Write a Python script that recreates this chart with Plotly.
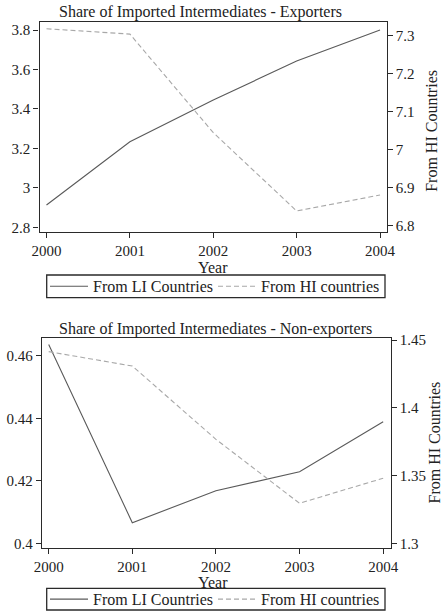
import plotly.graph_objects as go

W, H = 441, 611

years = [2000, 2001, 2002, 2003, 2004]
year_labels = ["2000", "2001", "2002", "2003", "2004"]

# Exporters
exp_li = [2.913, 3.234, 3.445, 3.643, 3.800]
exp_hi = [7.318, 7.304, 7.045, 6.839, 6.881]
exp_left_ticks = [2.8, 3.0, 3.2, 3.4, 3.6, 3.8]
exp_left_labels = ["2.8", "3", "3.2", "3.4", "3.6", "3.8"]
exp_right_ticks = [6.8, 6.9, 7.0, 7.1, 7.2, 7.3]
exp_right_labels = ["6.8", "6.9", "7", "7.1", "7.2", "7.3"]

# Non-exporters
non_li = [0.4636, 0.4066, 0.4168, 0.4229, 0.4389]
non_hi = [1.4414, 1.4308, 1.3767, 1.3295, 1.3480]
non_left_ticks = [0.40, 0.42, 0.44, 0.46]
non_left_labels = ["0.4", "0.42", "0.44", "0.46"]
non_right_ticks = [1.30, 1.35, 1.40, 1.45]
non_right_labels = ["1.3", "1.35", "1.4", "1.45"]

titles = ["Share of Imported Intermediates - Exporters",
          "Share of Imported Intermediates - Non-exporters"]
li_name = "From LI Countries"
hi_name = "From HI countries"
right_title = "From HI Countries"
x_title = "Year"

FONT = "Liberation Serif, Times New Roman, serif"
AX = "#2a2a2a"
LI_COL = "#5a5a5a"
HI_COL = "#a8a8a8"


def px(x):
    return x / W


def py(y):
    return 1 - y / H


fig = go.Figure()
fig.add_trace(go.Scatter(x=years, y=exp_li, mode="lines", name=li_name,
                         line=dict(color=LI_COL, width=1.1), xaxis="x", yaxis="y",
                         legend="legend"))
fig.add_trace(go.Scatter(x=years, y=exp_hi, mode="lines", name=hi_name,
                         line=dict(color=HI_COL, width=1.1, dash="5px,3px"),
                         xaxis="x", yaxis="y2", legend="legend"))
fig.add_trace(go.Scatter(x=years, y=non_li, mode="lines", name=li_name,
                         line=dict(color=LI_COL, width=1.1), xaxis="x2", yaxis="y3",
                         legend="legend2"))
fig.add_trace(go.Scatter(x=years, y=non_hi, mode="lines", name=hi_name,
                         line=dict(color=HI_COL, width=1.1, dash="5px,3px"),
                         xaxis="x2", yaxis="y4", legend="legend2"))

tickfont = dict(family=FONT, size=15, color="#222")
common_axis = dict(showline=True, linecolor=AX, linewidth=1.3, ticks="outside",
                   ticklen=5, tickcolor=AX, tickwidth=1.2, showgrid=False,
                   zeroline=False, tickfont=tickfont, automargin=False)

# panel geometry (pixels)
t_l, t_r, t_t, t_b = 39.5, 386.7, 22.3, 232.3
b_l, b_r, b_t, b_b = 42.0, 390.7, 337.7, 548.0

legend_common = dict(xanchor="left", yanchor="middle", orientation="h",
                     borderwidth=0, bgcolor="rgba(0,0,0,0)",
                     font=dict(family=FONT, size=16, color="#222"),
                     tracegroupgap=0, itemwidth=38, entrywidth=115)

fig.update_layout(
    width=W, height=H,
    margin=dict(l=0, r=0, t=0, b=0, autoexpand=False),
    paper_bgcolor="white", plot_bgcolor="white",
    font=dict(family=FONT, size=15, color="#222"),
    xaxis=dict(domain=[px(t_l), px(t_r)], anchor="y", range=[1999.916, 2004.08],
               tickvals=years, ticktext=year_labels, mirror=True, **common_axis),
    yaxis=dict(domain=[py(t_b), py(t_t)], anchor="x", range=[2.775, 3.839],
               tickvals=exp_left_ticks, ticktext=exp_left_labels, **common_axis),
    yaxis2=dict(overlaying="y", side="right", anchor="x", range=[6.783, 7.335],
                tickvals=exp_right_ticks, ticktext=exp_right_labels, **common_axis),
    xaxis2=dict(domain=[px(b_l), px(b_r)], anchor="y3", range=[1999.92, 2004.09],
                tickvals=years, ticktext=year_labels, mirror=True, **common_axis),
    yaxis3=dict(domain=[py(b_b), py(b_t)], anchor="x2", range=[0.3985, 0.4658],
                tickvals=non_left_ticks, ticktext=non_left_labels, **common_axis),
    yaxis4=dict(overlaying="y3", side="right", anchor="x2", range=[1.2965, 1.4517],
                tickvals=non_right_ticks, ticktext=non_right_labels, **common_axis),
    legend=dict(x=px(45), y=py(286.3), **legend_common),
    legend2=dict(x=px(45), y=py(599.2), **legend_common),
    showlegend=True,
)

# legend frames
for y0, y1 in ((275, 297.7), (588.3, 610)):
    fig.add_shape(type="rect", xref="paper", yref="paper",
                  x0=px(46.7), x1=px(385), y0=py(y1), y1=py(y0),
                  line=dict(color=AX, width=1.3), fillcolor="rgba(0,0,0,0)",
                  layer="below")

ann_font = dict(family=FONT, size=16, color="#222")
fig.add_annotation(x=px(200.5), y=py(12), xref="paper", yref="paper",
                   text=titles[0], showarrow=False, font=ann_font,
                   xanchor="center", yanchor="middle")
fig.add_annotation(x=px(215), y=py(328.5), xref="paper", yref="paper",
                   text=titles[1], showarrow=False, font=ann_font,
                   xanchor="center", yanchor="middle")
for yc in (267.5, 582.5):
    fig.add_annotation(x=px(213), y=py(yc), xref="paper", yref="paper",
                       text=x_title, showarrow=False, font=ann_font,
                       xanchor="center", yanchor="middle")
for xc, yc in ((432, 130.8), (434, 442.5)):
    fig.add_annotation(x=px(xc), y=py(yc), xref="paper", yref="paper",
                       text=right_title, showarrow=False, font=ann_font,
                       textangle=-90, xanchor="center", yanchor="middle")

fig.write_html("out.html", config={"displayModeBar": False},
               post_script="document.body.style.margin='0';"
                           "document.body.style.overflow='hidden';")
